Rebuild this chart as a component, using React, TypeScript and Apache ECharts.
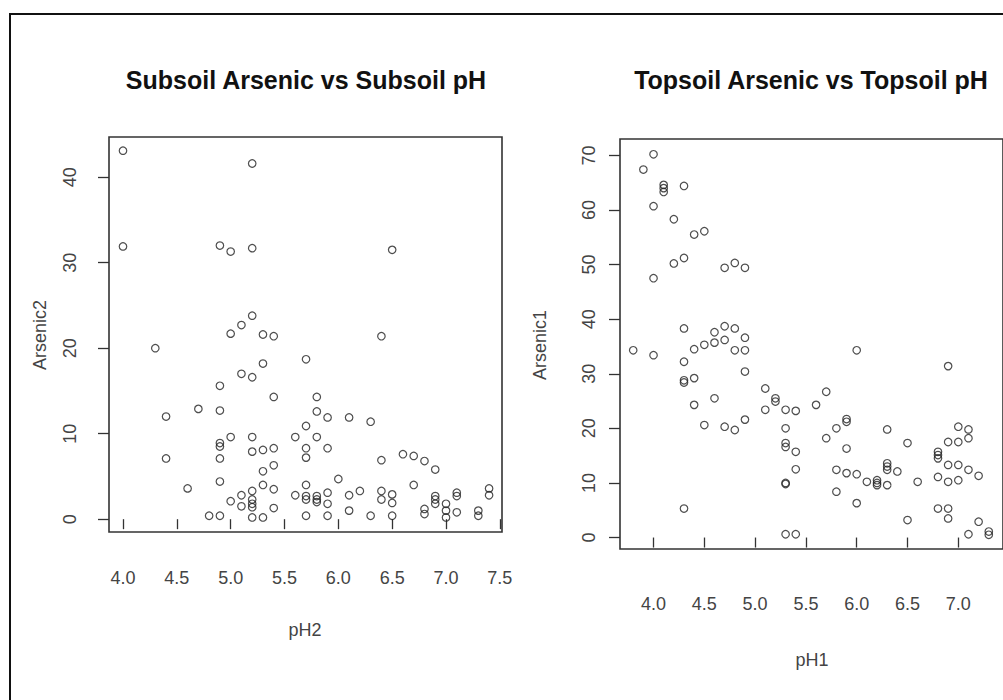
import React, { useEffect, useRef } from "react";
import * as echarts from "echarts";

// Subsoil (left panel)
const subsoilPH = [4.0,5.2,4.0,4.9,5.0,5.2,6.5,5.2,5.1,5.0,5.3,5.4,4.3,5.7,5.3,5.1,5.2,4.9,5.4,4.7,4.9,4.4,5.7,5.0,5.2,5.6,4.9,4.9,4.9,5.2,5.3,5.4,5.7,5.7,4.4,5.4,5.3,4.9,5.3,5.7,4.6,5.4,5.1,5.2,5.2,5.2,5.2,5.0,5.1,5.6,5.7,5.7,5.4,5.7,4.8,4.9,5.2,5.3,
  6.4,5.8,5.8,5.9,6.1,6.3,5.8,5.9,6.4,6.6,6.7,6.8,6.9,6.0,6.7,5.8,5.8,5.8,5.9,5.9,5.9,6.1,6.1,6.2,6.3,6.4,6.4,6.5,6.5,6.5,6.8,6.8,6.9,6.9,6.9,7.0,7.0,7.0,7.1,7.1,7.1,7.3,7.3,7.4,7.4];
const subsoilAs = [43.1,41.6,31.9,32.0,31.3,31.7,31.5,23.8,22.7,21.7,21.6,21.4,20.0,18.7,18.2,17.0,16.6,15.6,14.3,12.9,12.7,12.0,10.9,9.6,9.6,9.6,8.9,8.5,7.1,7.9,8.1,8.3,8.3,7.2,7.1,6.3,5.6,4.4,4.0,4.0,3.6,3.5,2.8,3.3,2.3,1.8,1.4,2.1,1.5,2.8,2.3,2.7,1.3,0.4,0.4,0.4,0.2,0.2,
  21.4,14.3,12.6,11.9,11.9,11.4,9.6,8.3,6.9,7.6,7.4,6.8,5.8,4.7,4.0,2.7,2.3,2.0,3.1,1.8,0.4,2.8,1.0,3.3,0.4,3.3,2.3,2.9,1.9,0.4,1.2,0.6,2.7,2.3,1.8,1.8,1.0,0.2,3.1,2.7,0.8,1.0,0.4,3.6,2.8];

// Topsoil (right panel)
const topsoilPH = [4.0,3.9,4.1,4.1,4.1,4.3,4.0,4.2,4.4,4.5,4.2,4.3,4.0,4.7,4.8,4.9,4.3,4.6,4.7,4.8,4.9,3.8,4.0,4.3,4.4,4.5,4.6,4.7,4.8,4.9,4.9,4.3,4.3,4.4,5.1,5.2,5.2,4.6,4.4,5.1,4.5,4.7,4.8,4.9,4.3,
  6.0,6.9,5.3,5.4,5.6,5.7,5.3,5.3,5.3,5.4,5.4,5.3,5.3,5.3,5.4,5.7,5.8,5.9,5.9,5.9,5.8,5.9,6.0,6.1,6.2,6.2,6.2,6.3,6.3,6.3,6.3,6.4,6.3,5.8,6.0,6.5,6.6,6.5,6.8,6.8,6.8,6.8,6.8,6.9,6.9,6.9,6.9,6.9,7.0,7.0,7.0,7.0,7.1,7.1,7.1,7.1,7.2,7.2,7.3,7.3];
const topsoilAs = [70.2,67.4,64.6,64.0,63.3,64.4,60.7,58.3,55.5,56.1,50.2,51.2,47.5,49.4,50.3,49.4,38.3,37.6,38.7,38.3,36.6,34.3,33.4,32.2,34.5,35.3,35.7,36.2,34.3,34.3,30.4,28.8,28.4,29.2,27.3,25.5,24.9,25.5,24.3,23.4,20.6,20.3,19.7,21.6,5.3,
  34.3,31.4,23.4,23.2,24.3,26.7,20.0,17.3,16.6,15.7,12.5,10.0,9.8,0.6,0.6,18.2,20.0,21.2,21.7,16.3,12.4,11.8,11.6,10.2,10.5,10.0,9.6,13.6,13.0,12.4,9.6,12.1,19.8,8.4,6.3,17.3,10.2,3.2,15.7,15.1,14.5,11.1,5.3,17.5,13.3,10.2,5.3,3.5,20.3,17.5,13.3,10.5,19.8,18.2,12.4,0.6,11.3,2.9,1.1,0.5];

const leftXTicks = [4.0, 4.5, 5.0, 5.5, 6.0, 6.5, 7.0, 7.5];
const rightXTicks = [4.0, 4.5, 5.0, 5.5, 6.0, 6.5, 7.0];
const leftYTicks = [0, 10, 20, 30, 40];
const rightYTicks = [0, 10, 20, 30, 40, 50, 60, 70];

const titles = ["Subsoil Arsenic vs Subsoil pH", "Topsoil Arsenic vs Topsoil pH"];
const xNames = ["pH2", "pH1"];
const yNames = ["Arsenic2", "Arsenic1"];

const FONT = "'Liberation Sans', Arial, sans-serif";

export default function App() {
  const ref = useRef<HTMLDivElement>(null);
  useEffect(() => {
    if (!ref.current) return;
    const chart = echarts.init(ref.current, null, { renderer: "svg" });
    const pairs = (xs: number[], ys: number[]) => xs.map((x, i) => [x, ys[i]]);
    const xAxis = (idx: number, min: number, max: number, ticks: number[], margin: number) => ({
      type: "value", gridIndex: idx, min, max,
      splitLine: { show: false },
      axisLine: { show: false },
      axisTick: { show: true, customValues: ticks, length: 10, lineStyle: { color: "#333", width: 1.3 } },
      axisLabel: { customValues: ticks, margin, formatter: (v: number) => v.toFixed(1), color: "#444", fontSize: 18, fontFamily: FONT },
    });
    const yAxis = (idx: number, min: number, max: number, ticks: number[], margin: number) => ({
      type: "value", gridIndex: idx, min, max,
      splitLine: { show: false },
      axisLine: { show: false },
      axisTick: { show: true, customValues: ticks, length: 11, lineStyle: { color: "#333", width: 1.3 } },
      axisLabel: { customValues: ticks, margin, rotate: 90, formatter: (v: number) => String(v), color: "#444", fontSize: 18, fontFamily: FONT },
    });
    const scatter = (idx: number, data: number[][]) => ({
      type: "scatter", xAxisIndex: idx, yAxisIndex: idx, data,
      symbol: "circle", symbolSize: 7.5,
      itemStyle: { color: "rgba(0,0,0,0)", borderColor: "#222", borderWidth: 1.2 },
      emphasis: { disabled: true },
    });
    chart.setOption({
      animation: false,
      backgroundColor: "#fff",
      grid: [
        { left: 109, top: 137, width: 393, height: 395, show: true, borderColor: "#333", borderWidth: 1.6, backgroundColor: "transparent" },
        { left: 620, top: 139, width: 387, height: 410, show: true, borderColor: "#333", borderWidth: 1.6, backgroundColor: "transparent" },
      ],
      xAxis: [xAxis(0, 3.87, 7.52, leftXTicks, 37), xAxis(1, 3.67, 7.44, rightXTicks, 46)],
      yAxis: [yAxis(0, -1.5, 44.7, leftYTicks, 30), yAxis(1, -2.1, 73.0, rightYTicks, 22)],
      series: [scatter(0, pairs(subsoilPH, subsoilAs)), scatter(1, pairs(topsoilPH, topsoilAs))],
      graphic: [
        { type: "rect", shape: { x: 10, y: 14, width: 1010, height: 700 }, style: { fill: "none", stroke: "#111", lineWidth: 2 } },
        { type: "text", x: 306, y: 80, style: { text: titles[0], font: `bold 25px ${FONT}`, fill: "#111", align: "center", verticalAlign: "middle" } },
        { type: "text", x: 811, y: 80, style: { text: titles[1], font: `bold 25px ${FONT}`, fill: "#111", align: "center", verticalAlign: "middle" } },
        { type: "text", x: 305, y: 630, style: { text: xNames[0], font: `18px ${FONT}`, fill: "#444", align: "center", verticalAlign: "middle" } },
        { type: "text", x: 812, y: 660, style: { text: xNames[1], font: `18px ${FONT}`, fill: "#444", align: "center", verticalAlign: "middle" } },
        { type: "text", x: 40, y: 335, rotation: Math.PI / 2, style: { text: yNames[0], font: `18px ${FONT}`, fill: "#444", align: "center", verticalAlign: "middle" } },
        { type: "text", x: 540, y: 345, rotation: Math.PI / 2, style: { text: yNames[1], font: `18px ${FONT}`, fill: "#444", align: "center", verticalAlign: "middle" } },
      ],
    });
    return () => chart.dispose();
  }, []);
  return <div ref={ref} style={{ position: "fixed", left: 0, top: 0, width: 1003, height: 700 }} />;
}
